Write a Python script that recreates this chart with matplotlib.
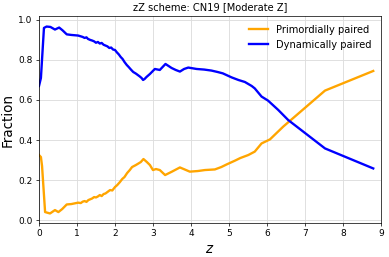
import matplotlib
matplotlib.use("Agg")
import matplotlib.pyplot as plt

# redshift grid + fractions
z_dyn = [0.0, 0.05, 0.13, 0.2, 0.3, 0.42, 0.53, 0.62, 0.73, 0.85, 1.03, 1.1, 1.15,
         1.2, 1.25, 1.29, 1.35, 1.4, 1.45, 1.5, 1.55, 1.6, 1.65, 1.7, 1.75, 1.8, 1.85,
         1.9, 1.95, 2.0, 2.05, 2.1, 2.15, 2.2, 2.25, 2.31, 2.36, 2.42, 2.48, 2.55, 2.6,
         2.65, 2.7, 2.74, 2.78, 2.83, 2.92, 3.05, 3.18, 3.33, 3.49, 3.6, 3.71, 3.82,
         3.93, 4.15, 4.35, 4.54, 4.7, 4.84, 5.07, 5.25, 5.42, 5.6, 5.68, 5.86, 6.03,
         6.3, 6.56, 7.53, 8.8]
f_dyn = [0.67, 0.71, 0.96, 0.967, 0.965, 0.952, 0.962, 0.948, 0.928, 0.925, 0.922,
         0.918, 0.915, 0.91, 0.913, 0.905, 0.9, 0.897, 0.893, 0.886, 0.89, 0.882,
         0.885, 0.876, 0.872, 0.868, 0.86, 0.862, 0.852, 0.85, 0.838, 0.828, 0.815,
         0.805, 0.79, 0.775, 0.765, 0.752, 0.74, 0.732, 0.725, 0.718, 0.71, 0.70,
         0.705, 0.715, 0.73, 0.755, 0.75, 0.78, 0.76, 0.75, 0.742, 0.755, 0.762,
         0.755, 0.752, 0.747, 0.74, 0.733, 0.713, 0.70, 0.69, 0.67, 0.658, 0.617,
         0.597, 0.55, 0.50, 0.358, 0.258]

z_prim = [0.0, 0.05, 0.08, 0.16, 0.29, 0.42, 0.51, 0.61, 0.73, 0.85, 1.03, 1.1, 1.15,
          1.2, 1.25, 1.3, 1.35, 1.4, 1.45, 1.5, 1.55, 1.6, 1.65, 1.7, 1.75, 1.8, 1.87,
          1.93, 2.0, 2.06, 2.13, 2.19, 2.25, 2.32, 2.39, 2.45, 2.55, 2.62, 2.68, 2.75,
          2.84, 2.92, 3.0, 3.08, 3.18, 3.32, 3.5, 3.71, 3.97, 4.18, 4.37, 4.63, 4.8,
          4.94, 5.16, 5.3, 5.51, 5.68, 5.86, 6.08, 6.43, 7.53, 8.8]
f_prim = [0.325, 0.315, 0.27, 0.04, 0.033, 0.05, 0.04, 0.055, 0.078, 0.08, 0.087,
          0.085, 0.092, 0.095, 0.091, 0.10, 0.104, 0.108, 0.115, 0.113, 0.118, 0.125,
          0.12, 0.13, 0.133, 0.14, 0.15, 0.148, 0.165, 0.175, 0.19, 0.205, 0.215,
          0.235, 0.25, 0.265, 0.275, 0.283, 0.29, 0.305, 0.29, 0.275, 0.25, 0.255,
          0.25, 0.225, 0.242, 0.263, 0.242, 0.245, 0.25, 0.253, 0.265, 0.278, 0.297,
          0.31, 0.325, 0.342, 0.383, 0.403, 0.467, 0.647, 0.745]

fig = plt.figure(figsize=(389 / 65, 257 / 65), dpi=65)
ax = fig.add_axes([0.1003, 0.132, 0.8787, 0.806])

ax.plot(z_prim, f_prim, color='orange', lw=2.6, label='Primordially paired')
ax.plot(z_dyn, f_dyn, color='blue', lw=2.6, label='Dynamically paired')

ax.set_xlim(0, 9)
ax.set_ylim(-0.015, 1.02)
ax.set_xticks(range(10))
ax.set_yticks([0.0, 0.2, 0.4, 0.6, 0.8, 1.0])
ax.grid(True, color='#dddddd', lw=1)
ax.set_xlabel('$z$', fontsize=15)
ax.set_ylabel('Fraction', fontsize=15)
ax.set_title('zZ scheme: CN19 [Moderate Z]', fontsize=11)
ax.legend(loc='upper right', frameon=False, fontsize=11)

fig.savefig('out.png', dpi=65)
